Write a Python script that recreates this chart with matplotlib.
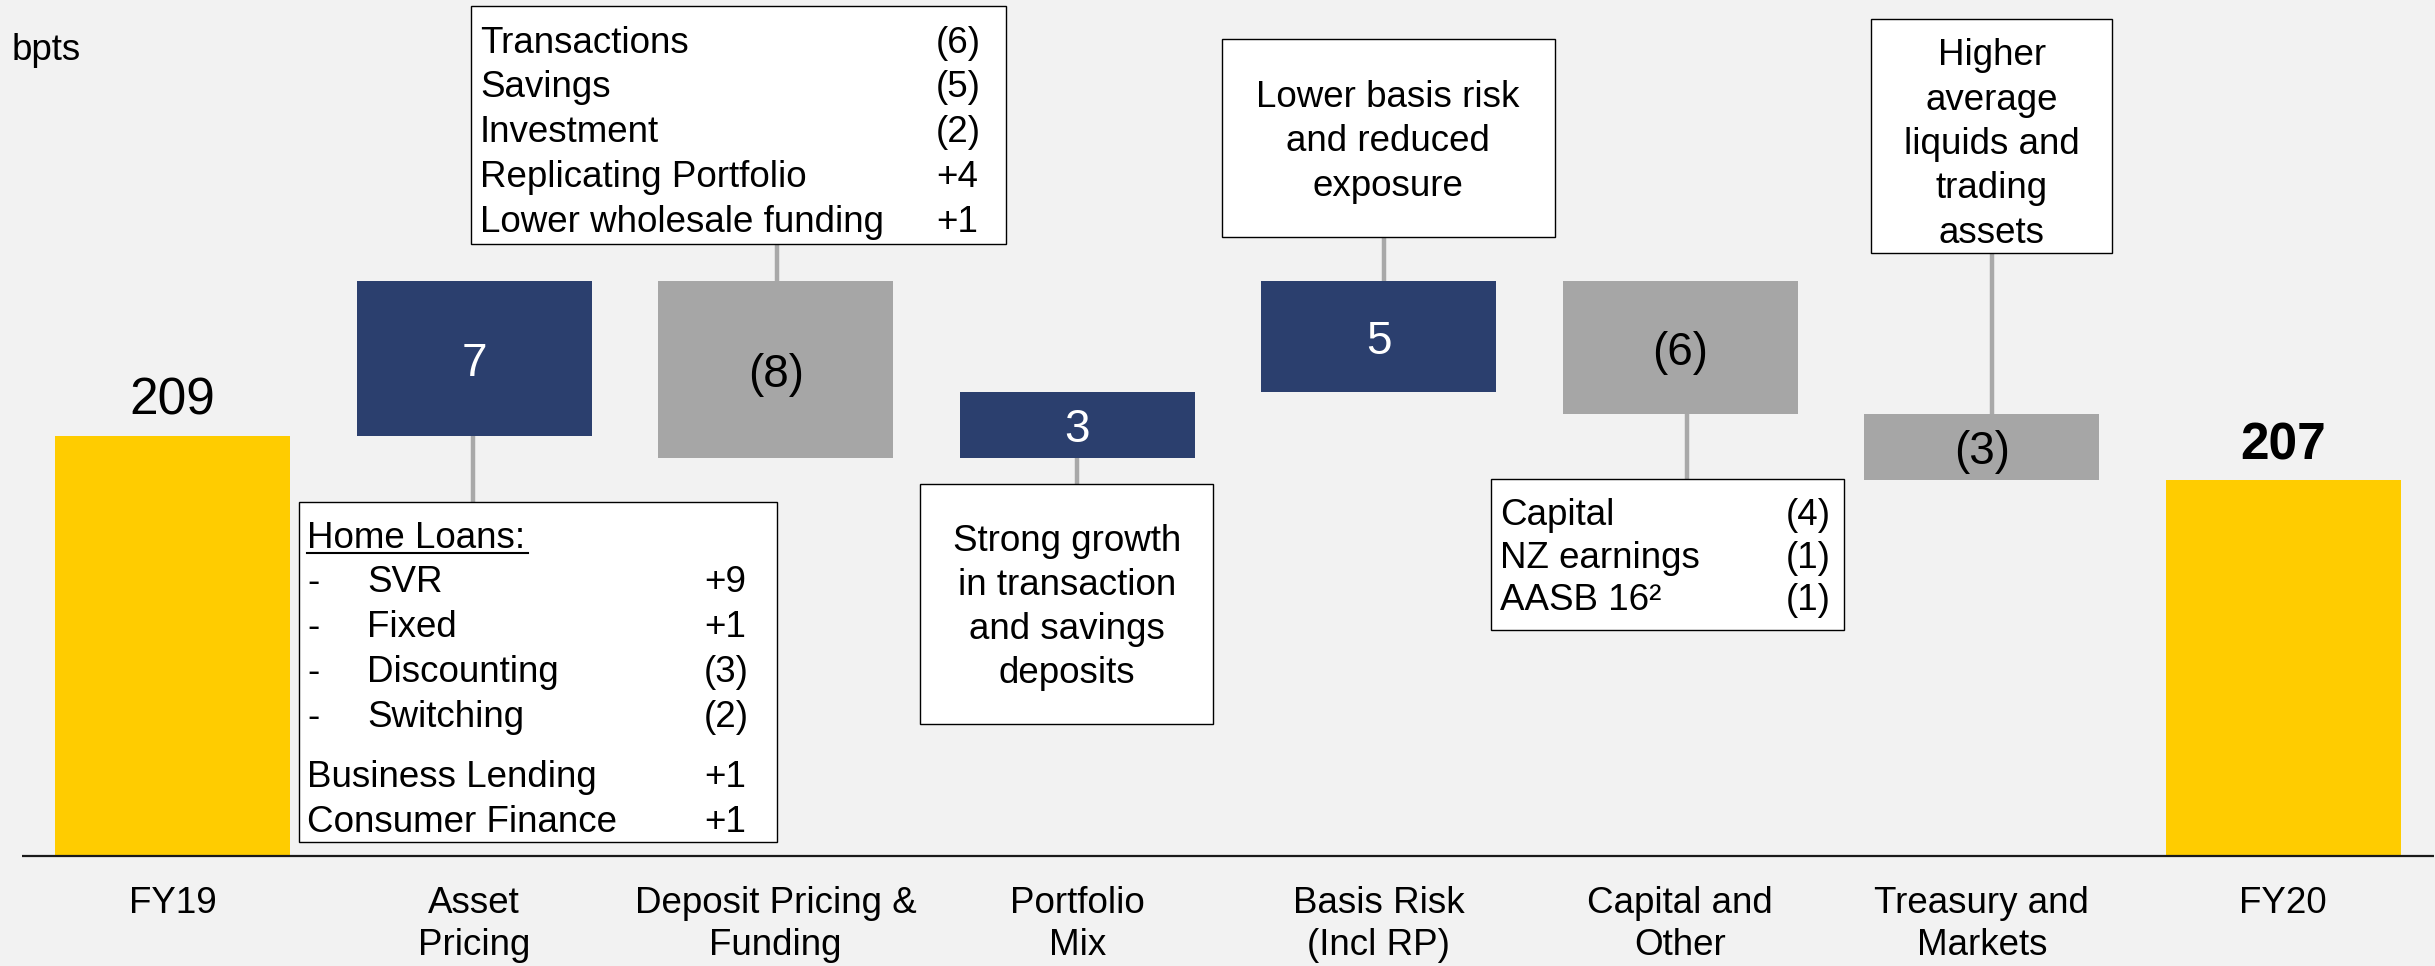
import matplotlib.pyplot as plt
import matplotlib.transforms as mtransforms
from matplotlib.patches import Rectangle, ConnectionPatch
from matplotlib.lines import Line2D

plt.rcParams['font.family'] = ['Liberation Sans', 'DejaVu Sans']

# Waterfall data (bpts)
categories = ['FY19', 'Asset\nPricing', 'Deposit Pricing &\nFunding', 'Portfolio\nMix',
              'Basis Risk\n(Incl RP)', 'Capital and\nOther', 'Treasury and\nMarkets', 'FY20']
start_value = 209
end_value = 207
changes = [7, -8, 3, 5, -6, -3]
change_labels = ['7', '(8)', '3', '5', '(6)', '(3)']
axis_floor = 190  # y axis is truncated

# Annotation text
deposit_items = ['Transactions', 'Savings', 'Investment', 'Replicating Portfolio', 'Lower wholesale funding']
deposit_values = ['(6)', '(5)', '(2)', '+4', '+1']
home_loan_items = ['SVR', 'Fixed', 'Discounting', 'Switching']
home_loan_values = ['+9', '+1', '(3)', '(2)']
other_lending_items = ['Business Lending', 'Consumer Finance']
other_lending_values = ['+1', '+1']
capital_items = ['Capital', 'NZ earnings', 'AASB 16²']
capital_values = ['(4)', '(1)', '(1)']
portfolio_note = ['Strong growth', 'in transaction', 'and savings', 'deposits']
basis_note = ['Lower basis risk', 'and reduced', 'exposure']
treasury_note = ['Higher', 'average', 'liquids and', 'trading', 'assets']

navy = '#2B3F6E'
grey = '#A6A6A6'
gold = '#FFCC00'
bg = '#F2F2F2'

W, H = 2435, 966
fig = plt.figure(figsize=(W / 100, H / 100), dpi=100, facecolor=bg)
ax = fig.add_axes([22 / W, 0, 2412 / W, 1])
ax.set_xlim(-0.5, 7.5)
ax.set_ylim(185.02, 228.73)
ax.axis('off')

# pixel coordinates measured from the top-left corner
pix = mtransforms.Affine2D().scale(1 / W, -1 / H).translate(0, 1) + fig.transFigure
xdata_ypix = mtransforms.blended_transform_factory(ax.transData, pix)
xpix_ydata = mtransforms.blended_transform_factory(pix, ax.transData)

# bars
levels = [start_value]
for c in changes:
    levels.append(levels[-1] + c)

width = 0.78
ax.bar(0, start_value - axis_floor, bottom=axis_floor, width=width, color=gold, zorder=2)
ax.bar(7, end_value - axis_floor, bottom=axis_floor, width=width, color=gold, zorder=2)
for i, c in enumerate(changes):
    lo = min(levels[i], levels[i + 1])
    ax.bar(i + 1, abs(c), bottom=lo, width=width, color=navy if c > 0 else grey, zorder=2)
    ax.annotate(change_labels[i], (i + 1, lo + abs(c) / 2), xytext=(0, -3.6), textcoords='offset points',
                ha='center', va='center', fontsize=33, color='white' if c > 0 else 'black', zorder=4)

ax.annotate(str(start_value), (0, start_value), xytext=(0, 25.5), textcoords='offset points',
            ha='center', va='center', fontsize=37)
ax.annotate(str(end_value), (7, end_value), xytext=(0, 25), textcoords='offset points',
            ha='center', va='center', fontsize=37, fontweight='bold')

ax.axhline(axis_floor, color='#1A1A1A', lw=1.6, zorder=3)

# category labels
for i, lab in enumerate(categories):
    for j, line in enumerate(lab.split('\n')):
        ax.text(i, 913 + 42 * j, line, transform=xdata_ypix, ha='center', va='baseline', fontsize=26.5)


def box(x, y, w, h):
    fig.add_artist(Rectangle((x, y), w, h, transform=pix, facecolor='white',
                             edgecolor='black', lw=1.0, zorder=5))


def connect(xp, bar_val, box_edge_y):
    con = ConnectionPatch(xyA=(xp, bar_val), coordsA=xpix_ydata,
                          xyB=(xp, box_edge_y), coordsB=pix,
                          color='#A9A9A9', lw=3.2, zorder=1)
    ax.add_artist(con)


def put(x, y, s, ha='left', **kw):
    # y is the text baseline in pixels from the top
    fig.text(x / W, 1 - y / H, s, ha=ha, va='baseline', fontsize=26.5, zorder=6, **kw)


put(12, 60, 'bpts')

# Asset pricing box
box(299, 502, 478, 340)
connect(473, min(levels[0], levels[1]), 502)
put(307, 548, 'Home Loans:')
fig.add_artist(Line2D([307, 528], [552.5, 552.5], transform=pix, color='black', lw=1.5, zorder=6))
for k, (item, val) in enumerate(zip(home_loan_items, home_loan_values)):
    y = 592 + 45 * k
    put(307, y, '-')
    put(367, y, item)
    put(704, y, val)
for k, (item, val) in enumerate(zip(other_lending_items, other_lending_values)):
    y = 787 + 45 * k
    put(307, y, item)
    put(704, y, val)

# Deposit pricing box
box(471, 6, 535, 238)
connect(777, max(levels[1], levels[2]), 244)
for k, (item, val) in enumerate(zip(deposit_items, deposit_values)):
    y = 52.7 + 44.8 * k
    put(480, y, item)
    put(936, y, val)

# Portfolio mix box
box(920, 484, 293, 240)
connect(1077, min(levels[2], levels[3]), 484)
for k, line in enumerate(portfolio_note):
    put(1067, 551 + 44 * k, line, ha='center')

# Basis risk box
box(1222, 39, 333, 198)
connect(1384, max(levels[3], levels[4]), 237)
for k, line in enumerate(basis_note):
    put(1388, 107 + 44.4 * k, line, ha='center')

# Capital and other box
box(1491, 479, 353, 151)
connect(1687, min(levels[4], levels[5]) + 0.5, 479)
for k, (item, val) in enumerate(zip(capital_items, capital_values)):
    y = 525 + 42.5 * k
    put(1500, y, item)
    put(1831, y, val, ha='right')

# Treasury box
box(1871, 19, 241, 234)
connect(1992, max(levels[5], levels[6]), 253)
for k, line in enumerate(treasury_note):
    put(1992, 65 + 44.5 * k, line, ha='center')

fig.savefig('out.png', dpi=100, facecolor=bg)
